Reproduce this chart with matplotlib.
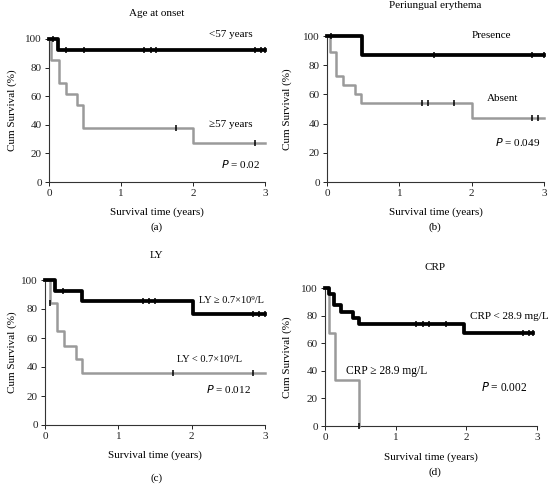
import matplotlib.pyplot as plt
import numpy as np

plt.rcParams['font.family'] = ['Liberation Serif', 'DejaVu Serif']

W, H = 551, 484

# step data: event times and survival (%) after each event
a_hi_t = [0, 0.13, 3.0]
a_hi_s = [100, 92, 92]
a_hi_c = [0.05, 0.23, 0.48, 1.32, 1.41, 1.49, 2.86, 2.94, 3.0]
a_lo_t = [0, 0.03, 0.14, 0.23, 0.39, 0.47, 2.0, 3.0]
a_lo_s = [100, 85, 69.5, 61.5, 53.5, 37.5, 27, 27]
a_lo_c = [1.76, 2.86]

b_pr_t = [0, 0.48, 3.0]
b_pr_s = [100, 87, 87]
b_pr_c = [0.05, 1.48, 2.84, 3.0]
b_ab_t = [0, 0.04, 0.13, 0.22, 0.39, 0.47, 2.0, 3.0]
b_ab_s = [100, 89, 72.5, 66.5, 60.5, 54, 43.5, 43.5]
b_ab_c = [1.31, 1.40, 1.75, 2.84, 2.92]

c_hi_t = [0, 0.13, 0.5, 2.02, 3.0]
c_hi_s = [100, 92.6, 85.7, 76.5, 76.5]
c_hi_c = [0.25, 1.33, 1.42, 1.5, 2.84, 2.92, 3.0]
c_lo_t = [0, 0.07, 0.16, 0.26, 0.42, 0.5, 3.0]
c_lo_s = [100, 84, 65, 54.7, 45.5, 36, 36]
c_lo_c = [0.07, 1.75, 2.84]

d_lo_t = [0, 0.05, 0.13, 0.22, 0.39, 0.48, 1.97, 2.95]
d_lo_s = [100, 96, 87.5, 82.7, 78.3, 74.2, 67.5, 67.5]
d_lo_c = [1.29, 1.39, 1.47, 1.71, 2.8, 2.89, 2.95]
d_hi_t = [0, 0.05, 0.14, 0.48]
d_hi_s = [100, 67.5, 33.5, 0]
d_hi_c = [0.48]

titles = ['Age at onset', 'Periungual erythema', 'LY', 'CRP']
pvals = ['0.02', '0.049', '0.012', '0.002']

fig = plt.figure(figsize=(W / 100, H / 100), dpi=100)


def add_ax(l, r, t, b):
    return fig.add_axes([l / W, 1 - b / H, (r - l) / W, (b - t) / H])


def curve(ax, t, s, c, color, lw):
    ax.step(t, s, where='post', color=color, lw=lw, clip_on=False, zorder=3)
    # censor marks use the value of the step at that time
    cy = [s[np.searchsorted(t, x, side='right') - 1] for x in c]
    ax.plot(c, cy, ls='none', marker='|', ms=5, mew=1.1, color='black',
            clip_on=False, zorder=4)


def style(ax):
    ax.set_xlim(0, 3)
    ax.set_ylim(0, 100)
    ax.set_xticks([0, 1, 2, 3])
    ax.set_yticks([0, 20, 40, 60, 80, 100])
    for s in ['top', 'right']:
        ax.spines[s].set_visible(False)
    for s in ['left', 'bottom']:
        ax.spines[s].set_linewidth(0.8)
        ax.spines[s].set_color('#333333')
    ax.tick_params(labelsize=8, length=3, width=0.7, pad=2, colors='#222222')


gray = '#9a9a9a'
panels = [
    (49, 265, 39, 182), (327, 544, 36, 182),
    (45, 265, 280, 425), (325, 537, 288, 426),
]
axs = [add_ax(*p) for p in panels]
for ax in axs:
    style(ax)

curve(axs[0], a_lo_t, a_lo_s, a_lo_c, gray, 1.8)
curve(axs[0], a_hi_t, a_hi_s, a_hi_c, 'black', 2.7)
curve(axs[1], b_ab_t, b_ab_s, b_ab_c, gray, 1.8)
curve(axs[1], b_pr_t, b_pr_s, b_pr_c, 'black', 2.7)
curve(axs[2], c_lo_t, c_lo_s, c_lo_c, gray, 1.8)
curve(axs[2], c_hi_t, c_hi_s, c_hi_c, 'black', 2.7)
curve(axs[3], d_hi_t, d_hi_s, d_hi_c, gray, 1.8)
curve(axs[3], d_lo_t, d_lo_s, d_lo_c, 'black', 2.7)

fs = 8
axs[0].text(2.53, 103, '<57 years', fontsize=fs, ha='center', va='center')
axs[0].text(2.53, 40, '\u226557 years', fontsize=fs, ha='center', va='center')
axs[1].text(2.28, 100, 'Presence', fontsize=fs, ha='center', va='center')
axs[1].text(2.43, 57, 'Absent', fontsize=fs, ha='center', va='center')
axs[2].text(2.1, 86, 'LY \u2265 0.7\u00d710\u2079/L', fontsize=7.5, ha='left', va='center',
            clip_on=False)
axs[2].text(1.8, 45, 'LY < 0.7\u00d710\u2079/L', fontsize=7.5, ha='left', va='center')
axs[3].text(3.16, 79, 'CRP < 28.9 mg/L', fontsize=8, ha='right', va='center', clip_on=False)
axs[3].text(0.87, 40, 'CRP \u2265 28.9 mg/L', fontsize=8.3, ha='center', va='center')
pv_pos = [(2.66, 12.5), (2.63, 27.5), (2.5, 25), (2.54, 28)]
pv_fs = [fs, fs, fs, 8.3]
for ax, pv, (x, y), f in zip(axs, pvals, pv_pos, pv_fs):
    ax.text(x, y, '$P$ = ' + pv, fontsize=f, ha='center', va='center')

# titles, axis labels and panel letters
title_y = [13, 6, 255, 267]
title_x = [157, 435, 157, 435]
xlab_y = [212, 212, 455, 457]
ylab_x = [12, 287, 12, 287]
letter_y = [227, 227, 478, 472]
for i, ax in enumerate(axs):
    fig.text(title_x[i] / W, 1 - title_y[i] / H, titles[i], fontsize=8,
             ha='center', va='center')
    cx = (panels[i][0] + panels[i][1]) / 2
    fig.text(cx / W, 1 - xlab_y[i] / H, 'Survival time (years)', fontsize=8,
             ha='center', va='center')
    cy = (panels[i][2] + panels[i][3]) / 2
    fig.text(ylab_x[i] / W, 1 - cy / H, 'Cum Survival (%)', fontsize=8,
             ha='center', va='center', rotation=90)
    fig.text(title_x[i] / W, 1 - letter_y[i] / H, '(' + 'abcd'[i] + ')',
             fontsize=8, ha='center', va='center')

fig.savefig('out.png', dpi=100)
